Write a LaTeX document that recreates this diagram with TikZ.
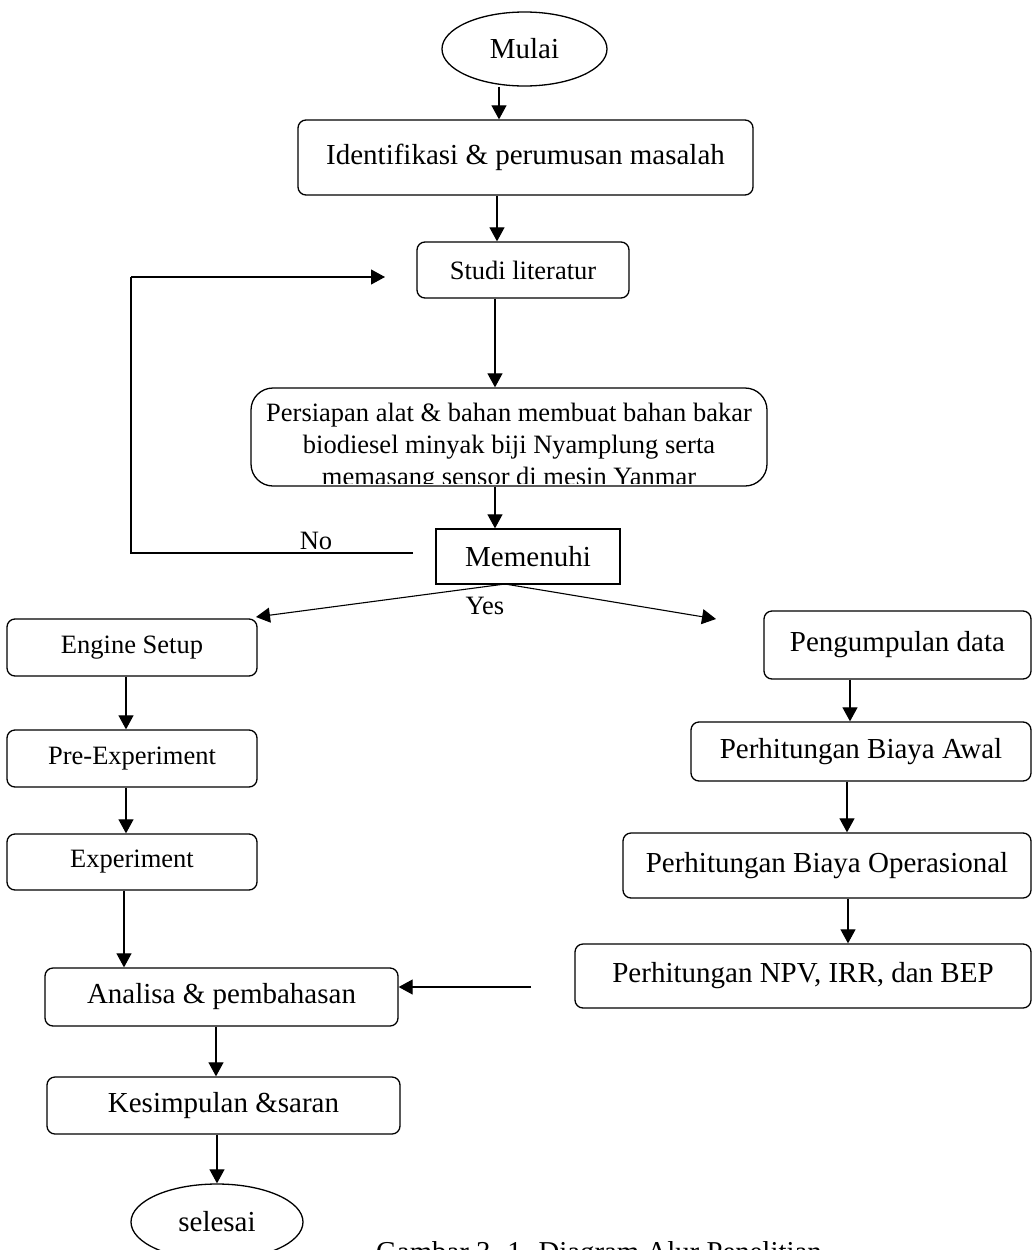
\documentclass[tikz,border=0pt]{standalone}
\usepackage{fontspec}
\setmainfont{Liberation Serif}
\usetikzlibrary{arrows.meta,shapes.geometric}
\newcommand{\bigfont}{\fontsize{29}{33}\selectfont}
\newcommand{\smallfont}{\fontsize{26.5}{33}\selectfont}
\tikzset{
  rbox/.style={draw, rounded corners=8pt, line width=1.3pt, inner sep=0pt, font=\bigfont},
  sbox/.style={draw, line width=1.3pt, inner sep=0pt, font=\bigfont},
  oval/.style={draw, ellipse, line width=1.3pt, inner sep=0pt, font=\bigfont},
  arr/.style={-{Triangle[length=14pt,width=15pt]}, line width=1.1pt},
  ln/.style={line width=1.1pt},
  lbl/.style={font=\smallfont, inner sep=0pt}
}
\begin{document}
\begin{tikzpicture}[x=1pt,y=-1pt]
\useasboundingbox (0,0) rectangle (1033,1250);
\clip (0,0) rectangle (1033,1250);
% top chain
\node[oval, minimum width=165pt, minimum height=74pt] (mulai) at (524.5,49) {Mulai};
\node[rbox, minimum width=455pt, minimum height=75pt] (ident) at (525.5,157.5) {Identifikasi \& perumusan masalah};
\node[rbox, minimum width=212pt, minimum height=56pt, font=\smallfont] (studi) at (523,270) {Studi literatur};
\node[rbox, rounded corners=22pt, minimum width=516pt, minimum height=98pt] (persiapan) at (509,437) {};
\begin{scope}
\clip (251,388) rectangle (767,483);
\node[lbl, anchor=base] (p1) at (509,421) {Persiapan alat \& bahan membuat bahan bakar};
\node[lbl, anchor=base] (p2) at (509,453) {biodiesel minyak biji Nyamplung serta};
\node[lbl, anchor=base] (p3) at (509,485) {memasang sensor di mesin Yanmar};
\end{scope}
\node[sbox, minimum width=184pt, minimum height=55pt] (mem) at (528,556.5) {Memenuhi};
% left column
\node[rbox, minimum width=250pt, minimum height=57pt, font=\smallfont] (engine) at (132,647.5) {Engine Setup};
\node[rbox, minimum width=250pt, minimum height=57pt, font=\smallfont] (pre) at (132,758.5) {Pre-Experiment};
\node[rbox, minimum width=250pt, minimum height=56pt, font=\smallfont] (exp) at (132,862) {Experiment};
\node[rbox, minimum width=353pt, minimum height=58pt] (analisa) at (221.5,997) {Analisa \& pembahasan};
\node[rbox, minimum width=353pt, minimum height=57pt] (kesimpulan) at (223.5,1105.5) {Kesimpulan \&saran};
\node[oval, minimum width=172pt, minimum height=76pt] (selesai) at (217,1222) {selesai};
% right column
\node[rbox, minimum width=267pt, minimum height=68pt] (peng) at (897.5,645) {Pengumpulan data};
\node[rbox, minimum width=340pt, minimum height=59pt] (awal) at (861,751.5) {Perhitungan Biaya Awal};
\node[rbox, minimum width=408pt, minimum height=65pt] (oper) at (827,865.5) {Perhitungan Biaya Operasional};
\node[rbox, minimum width=456pt, minimum height=64pt] (npv) at (803,976) {Perhitungan NPV, IRR, dan BEP};
% labels
\node[lbl] (no) at (316,541) {No};
\node[lbl] (yes) at (485,606) {Yes};
\node[font=\fontsize{28.8}{33}\selectfont, inner sep=0pt, anchor=base west] (cap) at (376,1261) {Gambar 3. 1. Diagram Alur Penelitian};
% free coordinates
\coordinate (noStart) at (413,553);
\coordinate (noCorner1) at (131,553);
\coordinate (noCorner2) at (131,277);
\coordinate (noEnd) at (385,277);
\coordinate (apex) at (505,584);
\coordinate (yesL) at (256,617);
\coordinate (yesR) at (716,619);
\coordinate (npvTail) at (531,987);
% connectors
\draw[arr] (mulai.south -| 499,0) -- (ident.north -| 499,0);
\draw[arr] (ident.south -| 497,0) -- (studi.north -| 497,0);
\draw[arr] (studi.south -| 495,0) -- (persiapan.north -| 495,0);
\draw[arr] (persiapan.south -| 495,0) -- (mem.north -| 495,0);
\draw[ln] (noStart) -- (noCorner1) -- (noCorner2);
\draw[arr] (noCorner2) -- (noEnd);
\draw[arr] (apex) -- (yesL);
\draw[arr] (apex) -- (yesR);
\draw[arr] (engine.south -| 126,0) -- (pre.north -| 126,0);
\draw[arr] (pre.south -| 126,0) -- (exp.north -| 126,0);
\draw[arr] (exp.south -| 124,0) -- (analisa.north -| 124,0);
\draw[arr] (npvTail) -- (analisa.east |- npvTail);
\draw[arr] (analisa.south -| 216,0) -- (kesimpulan.north -| 216,0);
\draw[arr] (kesimpulan.south -| 217,0) -- (selesai.north -| 217,0);
\draw[arr] (peng.south -| 850,0) -- (awal.north -| 850,0);
\draw[arr] (awal.south -| 847,0) -- (oper.north -| 847,0);
\draw[arr] (oper.south -| 848,0) -- (npv.north -| 848,0);
\end{tikzpicture}
\end{document}
